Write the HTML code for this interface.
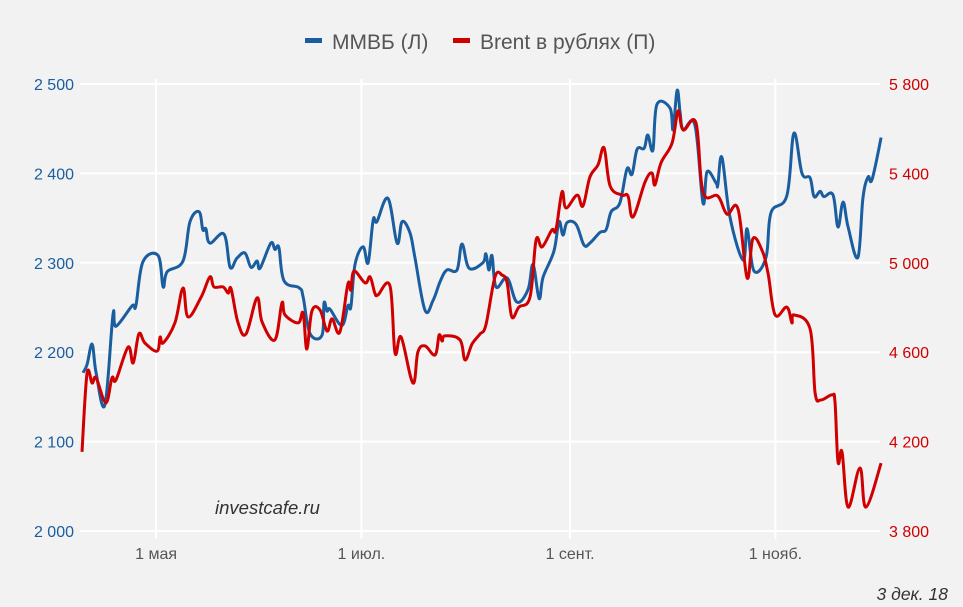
<!DOCTYPE html>
<html><head><meta charset="utf-8"><style>
html,body{margin:0;padding:0;background:#f2f2f2;}
svg{display:block;font-family:"Liberation Sans","Noto Sans CJK SC",sans-serif;}
</style></head><body>
<svg id="chart" width="963" height="607" viewBox="0 0 963 607">
<rect width="963" height="607" fill="#f2f2f2"/>
<g id="grid"></g>
<g id="axes"></g>
<g id="series"></g>
<g>
<g>
<rect x="305" y="38" width="17" height="5" fill="#1a5ea0"/>
<text x="332" y="49" font-size="21" fill="#555">ММВБ (Л)</text></g>
<g>
<rect x="453" y="38" width="17" height="5" fill="#d00000"/>
<text x="480" y="49" font-size="21" fill="#555">Brent в рублях (П)</text></g>
</g>
<text x="215" y="514" font-size="18.5" font-style="italic" fill="#333">investcafe.ru</text>
<text x="948" y="600" font-size="17.5" font-style="italic" fill="#333" text-anchor="end">3 дек. 18</text>
</svg>
<script>
const leftTicks=[2000,2100,2200,2300,2400,2500];
const rightTicks=[3800,4200,4600,5000,5400,5800];
const xTickDays=[22,83,145,206];
const xTickLabels=["1 мая","1 июл.","1 сент.","1 нояб."];
const mmvbDays=[0.3,1.5,3.0,4.2,6.8,9.2,10.1,14.9,16.0,18.1,22.6,24.1,25.3,30.0,32.1,34.8,35.9,36.8,38.0,42.2,44.0,46.0,48.4,50.2,52.0,52.9,56.1,57.3,58.5,60.0,64.5,65.7,67.7,71.3,71.9,72.8,73.7,77.2,79.0,79.9,81.1,83.5,85.0,86.5,87.6,90.9,93.6,95.1,97.4,98.9,101.9,104.3,106.4,108.4,111.4,112.9,115.0,119.1,120.0,120.9,121.8,123.0,126.3,129.2,132.5,134.0,135.8,137.0,140.2,141.7,142.9,144.1,146.8,149.1,150.9,153.9,155.7,157.2,159.8,161.9,163.4,164.9,167.0,168.1,169.6,170.8,174.7,175.6,176.8,177.7,178.6,182.1,184.5,185.7,188.4,188.9,190.1,192.5,196.4,197.6,199.6,203.2,204.7,209.4,211.5,213.9,216.3,217.5,219.3,220.4,223.1,224.6,226.1,227.6,230.5,232.0,233.5,234.7,237.4];
const mmvbValues=[2177,2186,2209,2177,2141,2242,2229,2252,2252,2301,2308,2273,2290,2302,2346,2357,2337,2338,2322,2332,2295,2305,2311,2295,2302,2294,2322,2315,2317,2280,2272,2262,2221,2219,2255,2246,2248,2230,2252,2251,2298,2318,2300,2348,2346,2372,2322,2346,2334,2306,2247,2258,2279,2292,2292,2321,2294,2300,2310,2292,2308,2273,2283,2256,2270,2298,2260,2284,2313,2346,2331,2345,2343,2320,2322,2334,2337,2357,2367,2405,2399,2427,2428,2443,2426,2477,2473,2449,2493,2468,2449,2454,2367,2402,2389,2387,2418,2351,2303,2338,2291,2306,2356,2375,2445,2400,2395,2374,2380,2374,2376,2340,2368,2340,2306,2372,2396,2393,2440];
const brentDays=[0,1.5,3.0,4.2,7.1,8.9,10.1,13.7,15.2,16.9,18.7,22.3,23.2,24.1,27.6,30.0,31.5,35.4,38.0,39.2,41.9,43.4,44.3,46.3,48.7,52.0,53.5,57.3,59.4,60.3,64.2,65.7,66.8,68.3,70.7,72.8,74.3,76.6,79.0,79.9,80.8,84.1,85.6,87.0,87.9,91.5,93.0,94.8,98.3,99.8,101.9,104.9,106.1,107.0,107.8,112.3,113.8,115.9,118.2,120.0,122.7,124.8,126.3,127.7,129.8,133.1,134.9,136.7,139.6,140.8,142.6,143.8,147.1,148.8,150.9,153.3,155.1,156.9,160.4,162.2,163.7,167.3,169.3,170.2,172.0,175.3,177.1,178.6,182.4,184.5,188.9,191.6,194.9,197.6,199.3,202.0,203.8,205.9,209.4,210.9,211.5,216.3,217.8,219.5,222.8,223.7,224.6,225.8,227.6,231.1,232.9,237.4];
const brentValues=[4154,4503,4462,4485,4373,4485,4476,4623,4552,4682,4641,4605,4668,4641,4731,4887,4758,4847,4937,4892,4892,4865,4883,4735,4681,4843,4735,4655,4820,4767,4731,4775,4614,4784,4789,4695,4749,4690,4905,4878,4963,4910,4937,4865,4856,4896,4597,4668,4462,4601,4628,4588,4677,4650,4673,4655,4565,4637,4681,4722,4937,4945,4910,4758,4802,4847,5102,5071,5147,5147,5317,5245,5303,5254,5384,5438,5514,5344,5303,5299,5205,5362,5402,5348,5447,5536,5679,5594,5626,5317,5299,5218,5241,4932,5107,5057,4954,4767,4802,4731,4767,4704,4418,4386,4409,4377,4109,4154,3907,4082,3907,4104];

const NS="http://www.w3.org/2000/svg";
const X0=82,PXD=3.366,YT=84,YB=531,PL=80,PR=880;
const xS=d=>X0+d*PXD;
const yL=v=>YB-(v-2000)/500*(YB-YT);
const yR=v=>YB-(v-3800)/2000*(YB-YT);
function mk(tag,attrs,parent){const e=document.createElementNS(NS,tag);for(const k in attrs)e.setAttribute(k,attrs[k]);parent.appendChild(e);return e;}
const grid=document.getElementById('grid'),axes=document.getElementById('axes'),series=document.getElementById('series');
leftTicks.forEach((t,i)=>{
 const y=yL(t);
 const l=mk('line',{x1:PL,x2:PR,y1:y,y2:y,stroke:'#ffffff','stroke-width':2},grid);
 
 
 const tl=mk('text',{x:74,y:y+6,'text-anchor':'end','font-size':16,fill:'#1a5ea0'},axes);
 tl.textContent=String(t).replace(/(\d)(\d{3})$/,'$1 $2');
 
 
});
rightTicks.forEach(t=>{
 const y=yR(t);
 const tl=mk('text',{x:889,y:y+6,'font-size':16,fill:'#d00000'},axes);
 tl.textContent=String(t).replace(/(\d)(\d{3})$/,'$1 $2');
 
 
});
xTickDays.forEach((d,i)=>{
 const x=xS(d);
 const l=mk('line',{x1:x,x2:x,y1:YT-5,y2:YB+8,stroke:'#ffffff','stroke-width':2},grid);
 
 
 const tl=mk('text',{x:x,y:559,'text-anchor':'middle','font-size':16,fill:'#555'},axes);
 tl.textContent=xTickLabels[i];
 
 
});
function path(days,vals,ys){
 const p=days.map((d,i)=>[xS(d),ys(vals[i])]);
 let s='M'+p[0][0].toFixed(1)+','+p[0][1].toFixed(1);
 for(let i=0;i<p.length-1;i++){
  const p0=p[Math.max(0,i-1)],p1=p[i],p2=p[i+1],p3=p[Math.min(p.length-1,i+2)];
  const t=0.18;
  const c1=[p1[0]+(p2[0]-p0[0])*t,p1[1]+(p2[1]-p0[1])*t];
  const c2=[p2[0]-(p3[0]-p1[0])*t,p2[1]-(p3[1]-p1[1])*t];
  s+=' C'+c1.map(v=>v.toFixed(1)).join(',')+' '+c2.map(v=>v.toFixed(1)).join(',')+' '+p2.map(v=>v.toFixed(1)).join(',');
 }
 return s;
}
const bl=mk('path',{d:path(mmvbDays,mmvbValues,yL),fill:'none',stroke:'#1a5ea0','stroke-width':3,'stroke-linejoin':'round'},series);


const rl=mk('path',{d:path(brentDays,brentValues,yR),fill:'none',stroke:'#d00000','stroke-width':3,'stroke-linejoin':'round'},series);


</script>
</body></html>
